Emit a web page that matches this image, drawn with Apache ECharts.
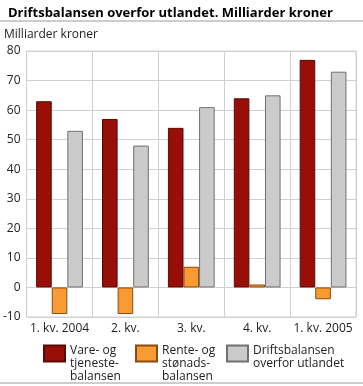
<!DOCTYPE html>
<html><head><meta charset="utf-8">
<script src="https://cdn.jsdelivr.net/npm/echarts@6/dist/echarts.min.js"></script>
<style>html,body{margin:0;padding:0;background:#fff}#c{width:363px;height:386px}</style>
</head><body><div id="c"></div>
<script>
const categories = ['1. kv. 2004', '2. kv.', '3. kv.', '4. kv.', '1. kv. 2005'];
const vareTjeneste = [63, 57, 54, 64, 77];
const renteStonad = [-9, -9, 7, 1, -4];
const driftsbalansen = [53, 48, 61, 65, 73];
const seriesNames = ['Vare- og\ntjeneste-\nbalansen', 'Rente- og\nstønads-\nbalansen', 'Driftsbalansen\noverfor utlandet'];
const yTicks = { min: -10, max: 80, interval: 10 };

const FONT = '"Open Sans", sans-serif';
const chart = echarts.init(document.getElementById('c'), null, { renderer: 'canvas' });
const colors = ['#970F07', '#F89B33', '#CBCBCB'];
const borders = ['#5a0a05', '#8a4a10', '#707070'];
function legend(i, left, spacer, top) {
  return {
    data: [seriesNames[i]], left: left, top: top, icon: 'rect', itemWidth: 21, itemHeight: 16, itemGap: 0,
    padding: 0, selectedMode: false,
    formatter: name => '{s| }\n' + name.split('\n').map(l => '{t|' + l + '}').join('\n'),
    textStyle: {
      fontFamily: FONT, fontSize: 12, color: '#222',
      rich: {
        s: { fontSize: 1, lineHeight: spacer, height: spacer },
        t: { fontFamily: FONT, fontSize: 12, color: '#222', lineHeight: 13 }
      }
    }
  };
}
chart.setOption({
  animation: false,
  title: {
    text: 'Driftsbalansen overfor utlandet. Milliarder kroner', left: 3, top: 2,
    textStyle: { fontFamily: FONT, fontSize: 13, fontWeight: 'bold', color: '#000' }
  },
  graphic: [
    { type: 'line', shape: { x1: 0, y1: 21, x2: 363, y2: 21 }, style: { stroke: '#9a9a9a', lineWidth: 1 } },
    { type: 'line', shape: { x1: 0, y1: 383, x2: 363, y2: 383 }, style: { stroke: '#9a9a9a', lineWidth: 1 } },
    { type: 'text', left: 4, top: 29, style: { text: 'Milliarder kroner', font: '12px ' + FONT, fill: '#222' } }
  ],
  legend: [legend(0, 43, 20, 324), legend(1, 135, 20, 324), legend(2, 226, 7, 337)],
  grid: { left: 25, right: 7, top: 51, bottom: 69, show: true, borderColor: '#d0d0d0', borderWidth: 1 },
  xAxis: {
    type: 'category', data: categories,
    axisLine: { show: true, lineStyle: { color: '#d0d0d0' } },
    axisTick: { show: false },
    splitLine: { show: true, lineStyle: { color: '#d0d0d0' } },
    axisLabel: { fontFamily: FONT, fontSize: 12, color: '#222', margin: 6, interval: 0 }
  },
  yAxis: {
    type: 'value', min: yTicks.min, max: yTicks.max, interval: yTicks.interval,
    axisLine: { show: false }, axisTick: { show: false },
    splitLine: { lineStyle: { color: '#d0d0d0' } },
    axisLabel: { fontFamily: FONT, fontSize: 12, color: '#222', margin: 6 }
  },
  series: [vareTjeneste, renteStonad, driftsbalansen].map((d, i) => ({
    name: seriesNames[i], type: 'bar', data: d, barGap: '0%', barCategoryGap: '29%',
    itemStyle: { color: colors[i], borderColor: borders[i], borderWidth: 1 }
  }))
});
</script></body></html>
